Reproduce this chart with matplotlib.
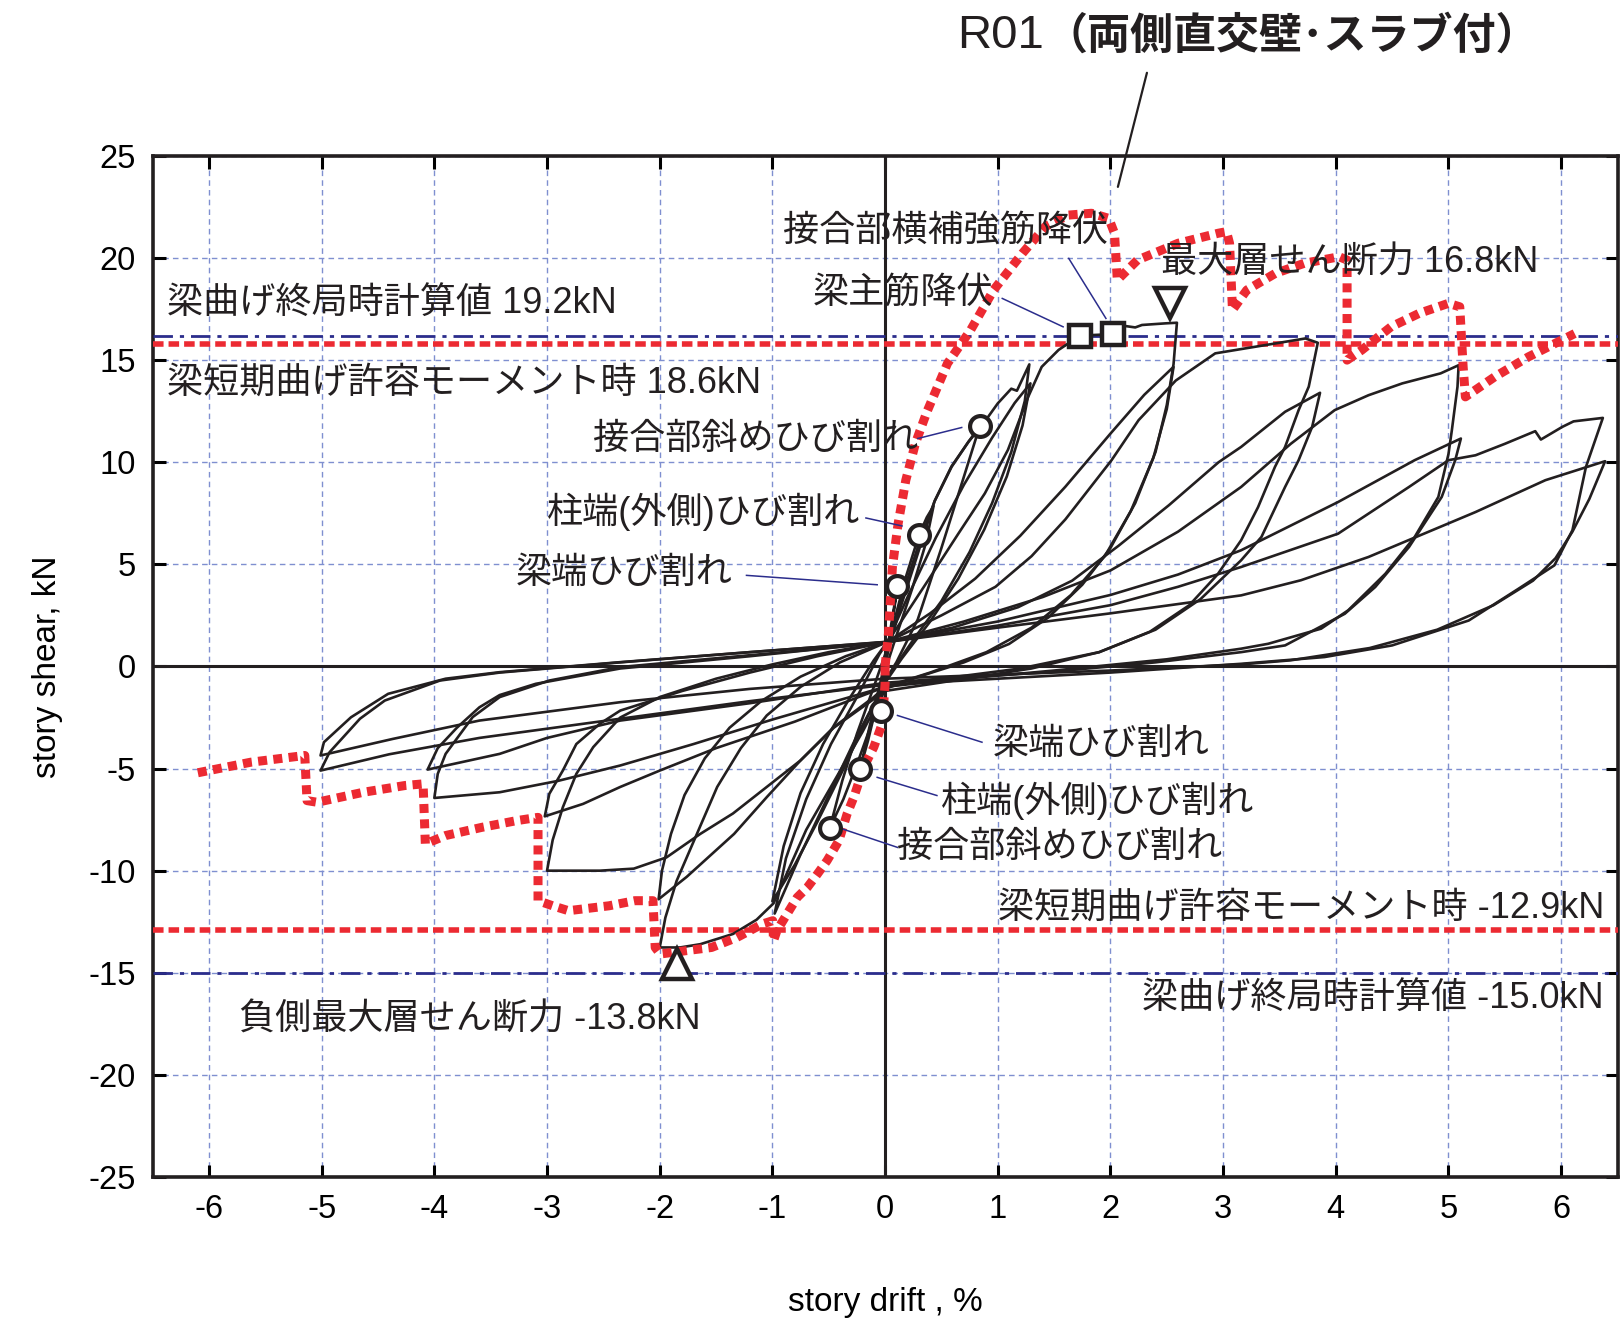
import matplotlib

matplotlib.use("Agg")

import matplotlib.pyplot as plt
import numpy as np

plt.rcParams["font.family"] = ["Liberation Sans", "Noto Sans CJK JP"]
plt.rcParams["axes.unicode_minus"] = False
JP = ["Liberation Sans", "Noto Sans CJK JP"]

# hysteresis, drift [%] / story shear [kN], one list per loading cycle
cycle_01 = [(0.0, 0.0), (0.05, 1.9), (0.11, 3.92), (0.06, 2.0), (0.01, 0.4), (-0.02, -1.0),
            (-0.04, -2.16), (-0.02, -1.1), (0.0, 0.1)]
cycle_02 = [(0.0, 0.1), (0.08, 2.2), (0.18, 4.3), (0.30, 6.42), (0.37, 7.3), (0.43, 7.85),
            (0.36, 6.0), (0.24, 3.8), (0.1, 1.5), (0.0, -0.2), (-0.08, -2.0), (-0.15, -3.6),
            (-0.22, -5.0), (-0.14, -3.0), (-0.06, -1.2), (0.0, 0.2)]
cycle_03 = [(0.0, 0.2), (0.12, 2.6), (0.26, 5.0), (0.44, 8.1), (0.59, 9.8), (0.74, 11.0),
            (0.84, 11.76), (0.7, 9.3), (0.5, 5.8), (0.29, 2.3), (0.1, 0.2), (0.0, -0.7),
            (-0.12, -2.8), (-0.25, -4.8), (-0.37, -6.5), (-0.49, -7.9), (-0.38, -5.6),
            (-0.25, -3.3), (-0.1, -1.0), (0.02, 0.9)]
cycle_04 = [(0.02, 0.9), (0.1, 2.3), (0.2, 4.3), (0.3, 6.0), (0.44, 8.1), (0.59, 9.77),
            (0.74, 11.0), (0.86, 11.8), (1.0, 12.88), (1.12, 13.6), (1.17, 13.5), (1.28, 14.79),
            (1.24, 13.0), (1.12, 10.5), (0.95, 8.0), (0.75, 5.6), (0.5, 3.2), (0.25, 1.3),
            (0.05, -0.3), (-0.15, -2.4), (-0.35, -4.8), (-0.6, -7.6), (-0.8, -9.7), (-1.0, -11.5),
            (-0.9, -8.8), (-0.75, -6.2), (-0.55, -3.8), (-0.32, -1.6), (-0.1, 0.3), (0.02, 1.2)]
cycle_05 = [(0.02, 1.2), (0.2, 3.4), (0.45, 6.3), (0.7, 8.9), (0.95, 11.2), (1.15, 12.9),
            (1.29, 13.86), (1.22, 11.8), (1.08, 9.3), (0.88, 6.7), (0.65, 4.3), (0.4, 2.2),
            (0.15, 0.4), (0.0, -0.8), (-0.25, -3.4), (-0.5, -6.3), (-0.75, -9.2), (-0.98, -12.1),
            (-0.88, -9.4), (-0.7, -6.5), (-0.48, -3.8), (-0.25, -1.5), (-0.05, 0.6), (0.02, 1.2)]
cycle_06 = [(0.02, 1.2), (0.11, 1.93), (0.38, 4.2), (0.65, 6.5), (0.885, 8.47), (1.09, 10.6),
            (1.27, 13.2), (1.39, 14.67), (1.54, 15.5), (1.73, 16.2), (2.02, 16.27), (2.13, 16.67),
            (2.22, 16.6), (2.28, 16.72), (2.49, 16.8), (2.59, 16.83),
            (2.56, 14.8), (2.5, 12.8), (2.4, 10.5), (2.22, 8.0), (2.0, 5.8), (1.75, 4.0),
            (1.45, 2.4), (1.1, 1.1), (0.7, 0.2), (0.3, -0.5), (0.0, -1.1),
            (-0.2, -3.2), (-0.45, -5.6), (-0.7, -8.0), (-0.99, -11.6), (-1.14, -12.4),
            (-1.35, -13.1), (-1.64, -13.6), (-1.82, -13.76), (-2.0, -13.76),
            (-1.95, -12.3), (-1.85, -10.5), (-1.67, -8.2), (-1.49, -5.9), (-1.28, -4.0),
            (-1.05, -2.4), (-0.75, -1.0), (-0.4, 0.2), (0.02, 1.2)]
cycle_07 = [(0.02, 1.2), (0.4, 2.6), (0.8, 4.3), (1.2, 6.4), (1.6, 8.8), (2.0, 11.4),
            (2.3, 13.3), (2.56, 14.67), (2.5, 12.6), (2.38, 10.2), (2.18, 7.6), (1.95, 5.4),
            (1.65, 3.5), (1.3, 1.9), (0.9, 0.7), (0.4, -0.3), (0.0, -1.0),
            (-0.1, -1.5), (-0.455, -2.97), (-0.75, -4.6), (-1.05, -6.4), (-1.34, -8.2),
            (-1.76, -10.3), (-2.01, -11.4),
            (-1.98, -10.0), (-1.9, -8.2), (-1.78, -6.3), (-1.6, -4.5), (-1.38, -3.0),
            (-1.1, -1.7), (-0.75, -0.5), (-0.35, 0.5), (0.02, 1.2)]
cycle_08 = [(0.02, 1.2), (0.5, 2.5), (0.98, 3.9), (1.3, 5.4), (1.6, 7.2), (2.01, 10.1),
            (2.25, 12.06), (2.58, 14.0), (2.93, 15.33), (3.38, 15.74), (3.73, 16.06), (3.84, 15.85),
            (3.76, 13.7), (3.67, 12.55), (3.55, 10.75), (3.46, 9.77), (3.31, 7.8), (3.16, 6.18),
            (2.95, 4.5), (2.7, 3.0), (2.35, 1.7), (1.9, 0.7), (1.3, -0.1), (0.6, -0.7), (0.0, -1.2),
            (-0.455, -3.0), (-0.75, -4.6), (-1.05, -5.9), (-1.35, -7.2), (-1.64, -8.2),
            (-1.94, -9.35), (-2.23, -9.9), (-2.53, -10.0), (-3.0, -10.0),
            (-2.95, -8.5), (-2.86, -6.9), (-2.74, -5.26), (-2.59, -3.95), (-2.35, -2.5),
            (-2.0, -1.5), (-1.5, -0.6), (-1.0, 0.1), (-0.5, 0.7), (0.02, 1.2)]
cycle_09 = [(0.02, 1.2), (0.6, 1.9), (1.18, 2.9), (1.66, 4.2), (2.07, 5.9), (2.52, 7.9),
            (2.96, 10.0), (3.16, 10.75), (3.55, 12.47), (3.86, 13.4),
            (3.79, 11.73), (3.67, 10.1), (3.55, 8.79), (3.34, 6.34), (3.16, 5.2), (2.8, 3.3),
            (2.4, 1.8), (1.9, 0.7), (1.2, -0.1), (0.5, -0.6), (0.0, -1.0),
            (-0.8, -2.7), (-1.5, -4.0), (-2.0, -5.1), (-2.35, -5.9), (-2.68, -6.73), (-3.02, -7.34),
            (-2.98, -6.24), (-2.86, -5.1), (-2.74, -3.8), (-2.53, -2.8), (-2.35, -2.16),
            (-1.8, -1.2), (-1.2, -0.3), (-0.6, 0.5), (0.02, 1.2)]
cycle_10 = [(0.02, 1.2), (0.7, 2.2), (1.4, 3.4), (2.0, 4.7), (2.6, 6.6), (3.16, 8.79),
            (3.6, 10.9), (3.99, 12.55), (4.29, 13.28), (4.59, 13.86), (4.93, 14.35), (5.09, 14.75),
            (5.08, 13.7), (5.03, 11.57), (5.0, 10.4), (4.91, 8.3), (4.7, 6.34), (4.44, 4.54),
            (4.11, 2.75), (3.87, 1.85), (3.4, 1.11), (3.16, 0.87), (2.5, 0.35), (1.5, -0.2),
            (0.5, -0.7), (0.0, -1.0),
            (-1.0, -2.6), (-1.7, -3.8), (-2.35, -4.85), (-2.9, -5.6), (-3.42, -6.16), (-4.0, -6.44),
            (-3.97, -5.26), (-3.9, -4.28), (-3.66, -2.48), (-3.42, -1.5), (-2.98, -0.69),
            (-2.35, -0.03), (-1.5, 0.4), (-0.7, 0.8), (0.02, 1.2)]
cycle_11 = [(0.02, 1.2), (1.0, 2.2), (2.0, 3.5), (2.6, 4.5), (3.16, 5.69), (4.02, 8.05),
            (4.7, 10.1), (5.11, 11.16),
            (5.06, 10.1), (4.94, 8.3), (4.65, 5.85), (4.35, 3.89), (4.08, 2.58), (3.55, 1.03),
            (3.16, 0.7), (2.4, 0.2), (1.4, -0.3), (0.5, -0.6), (0.0, -0.8),
            (-1.2, -1.8), (-2.35, -2.65), (-3.0, -3.5), (-3.42, -4.28), (-4.06, -5.05),
            (-3.97, -4.0), (-3.8, -3.0), (-3.6, -2.0), (-3.42, -1.4), (-3.1, -0.85),
            (-2.35, -0.1), (-1.2, 0.5), (0.02, 1.2)]
cycle_12 = [(0.02, 1.2), (1.0, 2.0), (2.0, 3.0), (2.6, 3.9), (3.16, 4.87), (4.02, 6.5),
            (4.65, 8.79), (5.0, 10.1), (5.24, 10.34), (5.5, 10.9), (5.77, 11.52), (5.82, 11.11),
            (6.01, 11.73), (6.11, 12.0), (6.37, 12.17),
            (6.22, 9.77), (6.1, 6.67), (5.94, 4.95), (5.62, 3.8), (5.18, 2.25), (4.5, 1.03),
            (3.9, 0.46), (3.16, 0.13), (2.0, -0.3), (1.0, -0.6), (0.0, -0.9),
            (-1.2, -1.7), (-2.35, -2.56), (-3.6, -3.5), (-4.4, -4.3), (-5.01, -5.1),
            (-4.93, -4.2), (-4.66, -2.56), (-4.44, -1.67), (-3.95, -0.69), (-3.42, -0.3),
            (-2.35, 0.2), (-1.2, 0.7), (0.02, 1.2)]
cycle_13 = [(0.02, 1.2), (1.0, 1.9), (2.0, 2.6), (3.16, 3.48), (3.69, 4.22), (4.29, 5.36),
            (5.24, 7.56), (5.86, 9.12), (6.39, 10.05),
            (6.25, 8.2), (6.1, 6.6), (5.95, 5.3), (5.75, 4.2), (5.4, 3.0), (4.9, 1.8), (4.3, 0.9),
            (3.6, 0.3), (3.16, 0.1), (2.0, -0.2), (1.0, -0.4), (0.0, -0.6),
            (-1.2, -1.1), (-2.35, -1.75), (-3.6, -2.65), (-4.37, -3.55), (-5.01, -4.36),
            (-4.98, -3.71), (-4.74, -2.49), (-4.41, -1.34), (-3.9, -0.6), (-3.42, -0.28),
            (-2.35, 0.21), (-1.2, 0.7), (0.0, 1.2)]
cycles = [cycle_01, cycle_02, cycle_03, cycle_04, cycle_05, cycle_06, cycle_07,
          cycle_08, cycle_09, cycle_10, cycle_11, cycle_12, cycle_13]

# envelope of the companion specimen (red dotted)
envelope_pos = [(0.0, 0.0), (0.03, 1.6), (0.065, 4.87), (0.116, 7.0), (0.184, 9.12), (0.269, 10.92),
                (0.37, 12.45), (0.554, 14.84), (0.759, 16.47), (0.963, 18.43), (1.219, 20.23),
                (1.423, 21.54), (1.627, 22.1), (1.832, 22.19), (1.985, 21.94), (2.036, 21.21),
                (2.061, 18.92), (2.24, 19.9), (2.6, 20.72), (2.955, 21.21), (3.03, 21.29),
                (3.057, 20.72), (3.083, 17.45), (3.21, 18.43), (3.465, 19.25), (3.72, 19.74),
                (4.03, 20.06), (4.10, 19.9), (4.10, 15.0), (4.23, 15.49), (4.49, 16.63),
                (4.74, 17.29), (5.0, 17.78), (5.10, 17.61), (5.13, 14.67), (5.15, 13.2),
                (5.41, 14.18), (5.71, 15.16), (6.12, 16.3)]
envelope_neg = [(0.0, 0.0), (0.0, -0.85), (-0.025, -2.8), (-0.10, -3.95), (-0.19, -4.94),
                (-0.277, -6.4), (-0.337, -7.22), (-0.41, -8.53), (-0.515, -9.51), (-0.60, -10.16),
                (-0.69, -10.82), (-0.78, -11.31), (-0.87, -12.12), (-0.96, -12.94), (-0.99, -13.43),
                (-0.997, -12.45), (-1.088, -12.61), (-1.315, -13.27), (-1.54, -13.76),
                (-1.77, -13.92), (-1.996, -14.08), (-2.04, -13.76), (-2.06, -11.47), (-2.22, -11.47),
                (-2.45, -11.72), (-2.81, -11.96), (-2.95, -11.72), (-3.08, -11.47), (-3.08, -7.39),
                (-3.27, -7.55), (-3.58, -7.88), (-3.9, -8.28), (-4.08, -8.69), (-4.1, -5.75),
                (-4.26, -5.83), (-4.63, -6.16), (-5.04, -6.65), (-5.13, -6.57), (-5.15, -4.36),
                (-5.63, -4.69), (-6.13, -5.24)]

# calculated reference levels (kN on story-shear axis)
ultimate_levels = [16.2, -15.0]
allowable_levels = [15.8, -12.9]

# events on the curve
crack_points = [(0.11, 3.92), (0.30, 6.42), (0.84, 11.76), (-0.04, -2.16), (-0.22, -5.0), (-0.49, -7.9)]
yield_points = [(1.73, 16.2), (2.02, 16.27)]
max_pos = (2.53, 17.8)
max_neg = (-1.85, -14.57)

RED = "#ec2a32"
NAVY = "#2b2d8c"
INK = "#231f20"

fig = plt.figure(figsize=(16.24, 13.21), dpi=100)
ax = fig.add_axes([0.094, 0.109, 0.902, 0.773])

ax.set_xlim(-6.5, 6.5)
ax.set_ylim(-25, 25)
ax.set_xticks(np.arange(-6, 7, 1))
ax.set_yticks(np.arange(-25, 26, 5))
ax.grid(True, color="#7f8fd0", linestyle=(0, (4, 3)), linewidth=1.0)
ax.tick_params(direction="in", top=True, right=True, length=9, width=2.2,
               labelsize=23.5, pad=12)
for side in ax.spines.values():
    side.set_linewidth(2.6)
    side.set_color(INK)

ax.axhline(0, color=INK, lw=2.2, zorder=2)
ax.axvline(0, color=INK, lw=2.2, zorder=2)

for level in ultimate_levels:
    ax.axhline(level, color=NAVY, lw=2.0, linestyle=(0, (7, 2.5, 1.5, 2.5)), zorder=3)
for level in allowable_levels:
    ax.axhline(level, color=RED, lw=4.0, linestyle=(0, (1.9, 0.9)), zorder=3)

for cyc in cycles:
    pts = np.array(cyc)
    ax.plot(pts[:, 0], pts[:, 1], color=INK, lw=1.9, zorder=4)

for env in (envelope_pos, envelope_neg):
    pts = np.array(env)
    ax.plot(pts[:, 0], pts[:, 1], color=RED, lw=6.5, linestyle=(0, (1.0, 0.7)), zorder=5)

cp = np.array(crack_points)
ax.plot(cp[:, 0], cp[:, 1], "o", ms=15, mfc="white", mec=INK, mew=3, zorder=7)
yp = np.array(yield_points)
ax.plot(yp[:, 0], yp[:, 1], "s", ms=16, mfc="white", mec=INK, mew=3.2, zorder=7)
ax.plot(*max_pos, "v", ms=22, mfc="white", mec=INK, mew=3.2, zorder=7)
ax.plot(*max_neg, "^", ms=22, mfc="white", mec=INK, mew=3.2, zorder=7)

# leader lines to event markers
leaders = [((1.63, 19.98), (1.96, 17.04)), ((1.04, 18.02), (1.58, 16.63)),
           ((0.29, 11.16), (0.68, 11.7)), ((-0.17, 7.27), (0.15, 6.88)),
           ((-1.23, 4.46), (-0.07, 4.0)), ((0.11, -2.4), (0.86, -3.71)),
           ((-0.07, -5.43), (0.46, -6.32)), ((-0.42, -7.88), (0.11, -8.86))]
for (x0, y0), (x1, y1) in leaders:
    ax.plot([x0, x1], [y0, y1], color=NAVY, lw=1.1, zorder=6)

fs = 26
labels = [
    (-6.37, 17.8, "梁曲げ終局時計算値 19.2kN", "left"),
    (-6.37, 13.86, "梁短期曲げ許容モーメント時 18.6kN", "left"),
    (-0.91, 21.3, "接合部横補強筋降伏", "left"),
    (-0.64, 18.27, "梁主筋降伏", "left"),
    (2.45, 19.75, "最大層せん断力 16.8kN", "left"),
    (0.29, 11.1, "接合部斜めひび割れ", "right"),
    (-0.22, 7.56, "柱端(外側)ひび割れ", "right"),
    (-1.35, 4.57, "梁端ひび割れ", "right"),
    (0.96, -3.81, "梁端ひび割れ", "left"),
    (0.50, -6.6, "柱端(外側)ひび割れ", "left"),
    (0.11, -8.88, "接合部斜めひび割れ", "left"),
    (6.38, -11.83, "梁短期曲げ許容モーメント時 -12.9kN", "right"),
    (6.38, -16.24, "梁曲げ終局時計算値 -15.0kN", "right"),
    (-5.73, -17.3, "負側最大層せん断力 -13.8kN", "left"),
]
for x, y, s, ha in labels:
    ax.text(x, y, s, ha=ha, va="center", fontsize=fs, family=JP, color=INK, zorder=8)

# specimen title with leader
ax.annotate("", xy=(2.06, 23.35), xytext=(2.33, 29.2), xycoords="data", textcoords="data",
            arrowprops=dict(arrowstyle="-", color=INK, lw=1.6), annotation_clip=False)
fig.text(0.643, 0.973, "R01", ha="right", va="center", fontsize=34, color=INK,
         family=["Liberation Sans"])
fig.text(0.643, 0.973, "（両側直交壁･スラブ付）", ha="left", va="center", fontsize=31,
         color=INK, family=["Noto Sans CJK JP"], fontweight="bold")

ax.set_xlabel("story drift , %", fontsize=24, labelpad=45)
ax.set_ylabel("story shear, kN", fontsize=24, labelpad=18)

fig.savefig("out.png", dpi=100)
